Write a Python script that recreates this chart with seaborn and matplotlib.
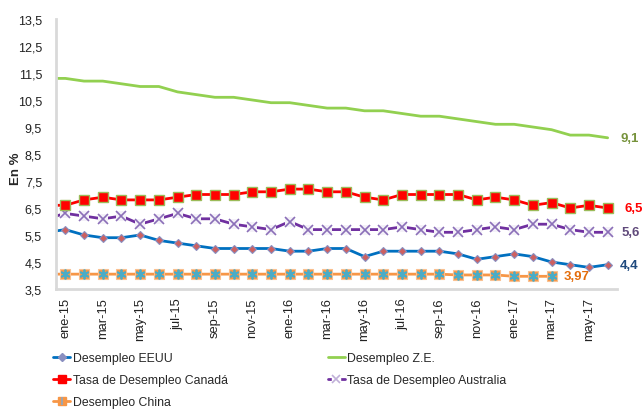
import numpy as np
import pandas as pd
import seaborn as sns
import matplotlib.pyplot as plt
from matplotlib.lines import Line2D
from matplotlib.legend_handler import HandlerTuple
from matplotlib.ticker import FuncFormatter

# meses (dic-14 solo sirve para que las lineas lleguen al borde izquierdo)
meses = ['dic-14',
         'ene-15', 'feb-15', 'mar-15', 'abr-15', 'may-15', 'jun-15',
         'jul-15', 'ago-15', 'sep-15', 'oct-15', 'nov-15', 'dic-15',
         'ene-16', 'feb-16', 'mar-16', 'abr-16', 'may-16', 'jun-16',
         'jul-16', 'ago-16', 'sep-16', 'oct-16', 'nov-16', 'dic-16',
         'ene-17', 'feb-17', 'mar-17', 'abr-17', 'may-17', 'jun-17']

desempleo_eeuu = [5.6,
                  5.7, 5.5, 5.4, 5.4, 5.5, 5.3, 5.2, 5.1, 5.0, 5.0, 5.0, 5.0,
                  4.9, 4.9, 5.0, 5.0, 4.7, 4.9, 4.9, 4.9, 4.9, 4.8, 4.6, 4.7,
                  4.8, 4.7, 4.5, 4.4, 4.3, 4.4]
desempleo_ze = [11.3,
                11.3, 11.2, 11.2, 11.1, 11.0, 11.0, 10.8, 10.7, 10.6, 10.6, 10.5, 10.4,
                10.4, 10.3, 10.2, 10.2, 10.1, 10.1, 10.0, 9.9, 9.9, 9.8, 9.7, 9.6,
                9.6, 9.5, 9.4, 9.2, 9.2, 9.1]
desempleo_canada = [6.6,
                    6.6, 6.8, 6.9, 6.8, 6.8, 6.8, 6.9, 7.0, 7.0, 7.0, 7.1, 7.1,
                    7.2, 7.2, 7.1, 7.1, 6.9, 6.8, 7.0, 7.0, 7.0, 7.0, 6.8, 6.9,
                    6.8, 6.6, 6.7, 6.5, 6.6, 6.5]
desempleo_australia = [6.1,
                       6.3, 6.2, 6.1, 6.2, 5.9, 6.1, 6.3, 6.1, 6.1, 5.9, 5.8, 5.7,
                       6.0, 5.7, 5.7, 5.7, 5.7, 5.7, 5.8, 5.7, 5.6, 5.6, 5.7, 5.8,
                       5.7, 5.9, 5.9, 5.7, 5.6, 5.6]
# China termina en mar-17
desempleo_china = [4.05,
                   4.05, 4.05, 4.05, 4.05, 4.05, 4.05, 4.05, 4.05, 4.05, 4.05, 4.05, 4.05,
                   4.05, 4.05, 4.05, 4.05, 4.05, 4.05, 4.05, 4.05, 4.05, 4.02, 4.02, 4.02,
                   3.97, 3.97, 3.97]

pos = np.arange(len(meses)) - 1  # dic-14 queda en -1, fuera del eje
df = pd.DataFrame({'pos': pos, 'eeuu': desempleo_eeuu, 'ze': desempleo_ze,
                   'canada': desempleo_canada, 'australia': desempleo_australia})
df_china = pd.DataFrame({'pos': pos[:len(desempleo_china)], 'china': desempleo_china})

sns.set_style('white')
plt.rcParams['font.family'] = ['Liberation Sans', 'DejaVu Sans']

fig = plt.figure(figsize=(6.43, 4.10), dpi=100)
ax = fig.add_axes([56 / 643, 120 / 410, 561 / 643, 270 / 410])

# lineas
sns.lineplot(data=df, x='pos', y='ze', ax=ax, color='#92D050', linewidth=2)
sns.lineplot(data=df_china, x='pos', y='china', ax=ax, color='#F79646', linewidth=2,
             marker='s', markersize=7, markerfacecolor='#F79646',
             markeredgecolor='#FAC090', markeredgewidth=0.8)
sns.lineplot(data=df_china, x='pos', y='china', ax=ax, linestyle='none',
             marker=(6, 2, 0), markersize=7, color='#4BACC6',
             markeredgecolor='#4BACC6', markeredgewidth=1.3)
sns.lineplot(data=df, x='pos', y='australia', ax=ax, color='#7030A0', linewidth=2,
             marker='s', markersize=7, markerfacecolor='#F4F1F8',
             markeredgecolor='#F4F1F8', markeredgewidth=0)
sns.lineplot(data=df, x='pos', y='australia', ax=ax, linestyle='none',
             marker='x', markersize=7, color='#8B6FB8',
             markeredgecolor='#8B6FB8', markeredgewidth=1.2)
sns.lineplot(data=df, x='pos', y='eeuu', ax=ax, color='#0070C0', linewidth=2,
             marker='D', markersize=3.6, markerfacecolor='#CD6060',
             markeredgecolor='#8A8FC0', markeredgewidth=0.8)
sns.lineplot(data=df, x='pos', y='canada', ax=ax, color='#FF0000', linewidth=2,
             marker='s', markersize=7, markerfacecolor='#FF0000',
             markeredgecolor='#9BBB59', markeredgewidth=1)

# etiquetas del ultimo dato
ultimo = len(meses) - 2
etiquetas = [
    (ultimo, desempleo_ze[-1], '9,1', '#77933C', 9),
    (ultimo, desempleo_canada[-1], '6,5', '#FF0000', 12),
    (ultimo, desempleo_australia[-1], '5,6', '#604A7B', 10),
    (ultimo, desempleo_eeuu[-1], '4,4', '#1F497D', 8.6),
    (len(desempleo_china) - 2, desempleo_china[-1], '3,97', '#E46C0A', 8.6),
]
for x, y, txt, col, dx in etiquetas:
    ax.annotate(txt, xy=(x, y), xytext=(dx, 0), textcoords='offset points',
                ha='left', va='center', fontsize=9.5, fontweight='bold', color=col,
                annotation_clip=False)

# ejes
ax.set_xlim(-0.5, 29.5)
ax.set_ylim(3.5, 13.5)
ax.set_yticks(np.arange(3.5, 13.6, 1.0))
ax.yaxis.set_major_formatter(FuncFormatter(lambda v, p: f'{v:.1f}'.replace('.', ',')))
ax.set_xticks(np.arange(0, 30, 2))
ax.set_xticklabels(meses[1::2], rotation=90)
ax.set_xticks(np.arange(-0.5, 30, 2), minor=True)
ax.tick_params(axis='x', which='major', length=0, pad=6, labelsize=9.3, colors='#222222')
ax.tick_params(axis='x', which='minor', length=4, width=1, color='#BFBFBF', direction='out')
ax.tick_params(axis='y', length=4, width=1, color='#BFBFBF', direction='out',
               labelsize=9, labelcolor='#222222', pad=6)
ax.set_xlabel('')
ax.set_ylabel('En %', fontsize=9.5, fontweight='bold')
ax.yaxis.set_label_coords(-0.061, 0.45)

for s in ['top', 'right']:
    ax.spines[s].set_visible(False)
for s in ['left', 'bottom']:
    ax.spines[s].set_color('#D9D9D9')
    ax.spines[s].set_linewidth(2)

# leyenda
h_eeuu = Line2D([], [], color='#0070C0', lw=2, marker='D', ms=3.8,
                mfc='#8A8FC0', mec='#8A8FC0')
h_ze = Line2D([], [], color='#92D050', lw=2)
h_canada = Line2D([], [], color='#FF0000', lw=2, marker='s', ms=6,
                  mfc='#FF0000', mec='#FF0000')
h_aus = (Line2D([], [], color='#7030A0', lw=2, marker='s', ms=6,
                mfc='white', mec='white'),
         Line2D([], [], ls='none', marker='x', ms=6, color='#C0B0D8', mew=1.2))
h_china = (Line2D([], [], color='#F79646', lw=2, marker='s', ms=6,
                  mfc='#F79646', mec='#F79646'),
           Line2D([], [], ls='none', marker='|', ms=6, color='#8FA8C0', mew=1.2))

handles = [h_eeuu, h_canada, h_china, h_ze, h_aus]
labels = ['Desempleo EEUU', 'Tasa de Desempleo Canadá', 'Desempleo China',
          'Desempleo Z.E.', 'Tasa de Desempleo Australia']
fig.legend(handles, labels, ncol=2, loc='upper left',
           bbox_to_anchor=(53 / 643, 1 - 353 / 410), frameon=False,
           fontsize=8.8, handlelength=1.4, handletextpad=0.2,
           columnspacing=8.2, labelspacing=0.82, borderpad=0, borderaxespad=0,
           handler_map={tuple: HandlerTuple(ndivide=1)})

plt.savefig('out.png', dpi=100)
